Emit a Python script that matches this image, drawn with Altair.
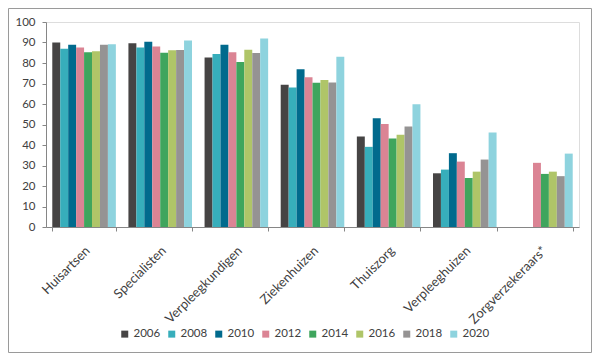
import altair as alt
import pandas as pd

categories = ["Huisartsen", "Specialisten", "Verpleegkundigen", "Ziekenhuizen",
              "Thuiszorg", "Verpleeghuizen", "Zorgverzekeraars*"]
years = ["2006", "2008", "2010", "2012", "2014", "2016", "2018", "2020"]
colors = ["#464444", "#37AEBB", "#016A8D", "#DB8494", "#3FA55D", "#AFC568", "#959393", "#8ED3DE"]

v2006 = [90.0, 89.6, 82.7, 69.4, 44.1, 26.2, None]
v2008 = [87.0, 87.6, 84.4, 68.1, 39.1, 28.0, None]
v2010 = [88.9, 90.4, 88.9, 76.9, 53.1, 36.0, None]
v2012 = [87.6, 88.1, 85.3, 73.1, 50.2, 31.9, 31.3]
v2014 = [85.3, 85.0, 80.5, 70.4, 43.2, 23.9, 25.9]
v2016 = [85.7, 86.2, 86.5, 71.7, 45.0, 27.0, 27.0]
v2018 = [88.9, 86.3, 84.9, 70.5, 49.0, 32.9, 24.8]
v2020 = [89.2, 91.0, 91.9, 83.1, 59.9, 46.1, 35.8]
y_ticks = [0, 10, 20, 30, 40, 50, 60, 70, 80, 90, 100]

series = [v2006, v2008, v2010, v2012, v2014, v2016, v2018, v2020]
rows = []
for yr, vals in zip(years, series):
    for cat, v in zip(categories, vals):
        if v is not None:
            rows.append({"categorie": cat, "jaar": yr, "waarde": v})
df = pd.DataFrame(rows)

bars = alt.Chart(df).mark_bar().encode(
    x=alt.X("categorie:N", sort=categories, title=None,
            scale=alt.Scale(paddingInner=0.165, paddingOuter=0.0825),
            axis=alt.Axis(tickBand="extent", labelAngle=-45, labelAlign="right",
                          labelBaseline="top", labelOffset=-1, labelPadding=13,
                          domainColor="#868686", tickColor="#868686", tickSize=4,
                          labelColor="#404040", labelFontSize=13, labelFont="Lato")),
    xOffset=alt.XOffset("jaar:N", sort=years, scale=alt.Scale(paddingInner=0, paddingOuter=0)),
    y=alt.Y("waarde:Q", title=None,
            scale=alt.Scale(domain=[0, 100], nice=False),
            axis=alt.Axis(values=y_ticks, grid=False, domainColor="#868686",
                          tickColor="#868686", tickSize=4, labelPadding=7,
                          labelColor="#404040", labelFontSize=11.5, labelFont="Lato")),
    color=alt.Color("jaar:N", sort=years,
                    scale=alt.Scale(domain=years, range=colors),
                    legend=alt.Legend(title=None, orient="none", direction="horizontal",
                                      legendX=73, legendY=306, symbolType="square",
                                      symbolSize=49, symbolStrokeWidth=0, labelOffset=3,
                                      columnPadding=5, padding=0,
                                      labelFontSize=11.5, labelFont="Lato",
                                      labelColor="#404040")),
)

frame = alt.Chart(pd.DataFrame({"a": [0]})).mark_rect(
    fillOpacity=0, stroke="#9A9A9A", strokeWidth=1
).encode(x=alt.value(-37.5), x2=alt.value(545.5), y=alt.value(-13.5), y2=alt.value(330.5))

chart = alt.layer(frame, bars).properties(
    width=533, height=205,
    padding={"left": 38, "top": 14, "right": 13, "bottom": 126},
    autosize=alt.AutoSizeParams(type="none"),
).configure_view(stroke=None).configure(font="Lato")

chart.save("out.html", embed_options={"renderer": "svg", "actions": False})
